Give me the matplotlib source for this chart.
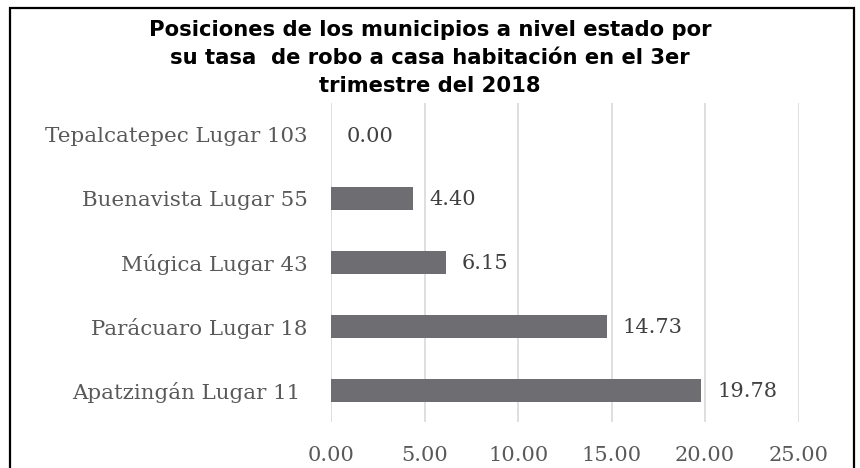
import matplotlib.pyplot as plt
from matplotlib.patches import Rectangle

categorias = ['Apatzingán Lugar 11 ', 'Parácuaro Lugar 18', 'Múgica Lugar 43',
              'Buenavista Lugar 55', 'Tepalcatepec Lugar 103']
tasas = [19.78, 14.73, 6.15, 4.40, 0.00]
ticks_x = [0, 5, 10, 15, 20, 25]

fig = plt.figure(figsize=(8.6, 4.68), dpi=100)
ax = fig.add_axes([0.385, 0.0983, 0.5436, 0.682])

pos = range(len(categorias))
ax.barh(pos, tasas, height=0.36, color='#6e6d72', zorder=3)

for y, v in zip(pos, tasas):
    ax.annotate(f'{v:.2f}', (v, y), xytext=(11.5, -1), textcoords='offset points',
                va='center', ha='left', fontsize=15, family='DejaVu Serif',
                color='#404040')

ax.set_xlim(0, 25)
ax.set_ylim(-0.5, 4.5)
ax.set_xticks(ticks_x)
ax.set_xticklabels([f'{t:.2f}' for t in ticks_x], family='DejaVu Serif',
                   fontsize=15, color='#595959')
ax.set_yticks(list(pos))
ax.set_yticklabels(categorias, family='DejaVu Serif', fontsize=15.4, color='#595959')
ax.tick_params(axis='both', length=0)
ax.tick_params(axis='y', pad=17)
ax.tick_params(axis='x', pad=17)
ax.grid(axis='x', color='#d9d9d9', lw=1.2, zorder=0)
for s in ax.spines.values():
    s.set_visible(False)

fig.text(0.5, 0.876, 'Posiciones de los municipios a nivel estado por\n'
         'su tasa  de robo a casa habitación en el 3er\ntrimestre del 2018',
         ha='center', va='center', fontsize=15.2, fontweight='bold',
         family='DejaVu Sans', linespacing=1.5)

fig.patches.append(Rectangle((0.0116, -0.05), 0.9814, 1.032, transform=fig.transFigure,
                             fill=False, edgecolor='black', lw=1.6))

fig.savefig('out.png', dpi=100)
